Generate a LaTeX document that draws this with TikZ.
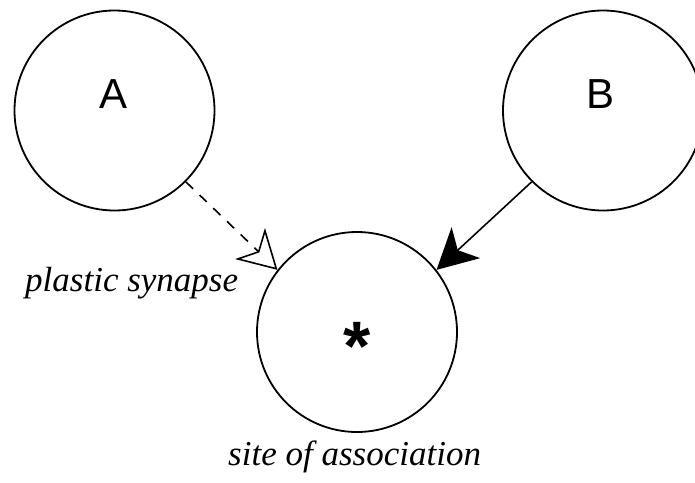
\documentclass[tikz,border=0pt]{standalone}
\usepackage{fontspec}
\setmainfont{Liberation Serif}
\setsansfont{Liberation Sans}
\usetikzlibrary{arrows.meta}
\tikzset{
  cell/.style={draw, circle, line width=1.8pt, minimum size=200pt, inner sep=0pt},
  letter/.style={inner sep=0pt, anchor=base, font=\sffamily\fontsize{42}{48}\selectfont},
  caption/.style={inner sep=0pt, anchor=base west, font=\itshape\fontsize{35}{40}\selectfont},
  link/.style={line width=1.6pt},
  plastic/.style={link, dash pattern=on 10pt off 9pt,
    -{Stealth[open, length=38pt, width=43pt, inset=11pt, line width=1.6pt]}},
  fixed/.style={link, -{Stealth[length=40pt, width=42pt, inset=11pt]}}
}
\begin{document}
\begin{tikzpicture}[x=1pt,y=-1pt]
\useasboundingbox (0,0) rectangle (695,482);
\node[cell] (A) at (114.5,110.5) {};
\node[cell] (B) at (603,110.5) {};
\node[cell] (S) at (357,332) {};
\node[letter] (la) at (113.5,108) {A};
\node[letter] (lb) at (600.5,108) {B};
\node[inner sep=0pt, anchor=base, font=\sffamily\bfseries\fontsize{70}{80}\selectfont] (ls) at (357.5,370.5) {*};
\draw[plastic] (A.-45) -- (S.142);
\draw[fixed] (B.225) -- (S.38);
\node[caption] (cp) at (25,291) {plastic synapse};
\node[caption] (cs) at (228,465) {site of association};
\end{tikzpicture}
\end{document}
